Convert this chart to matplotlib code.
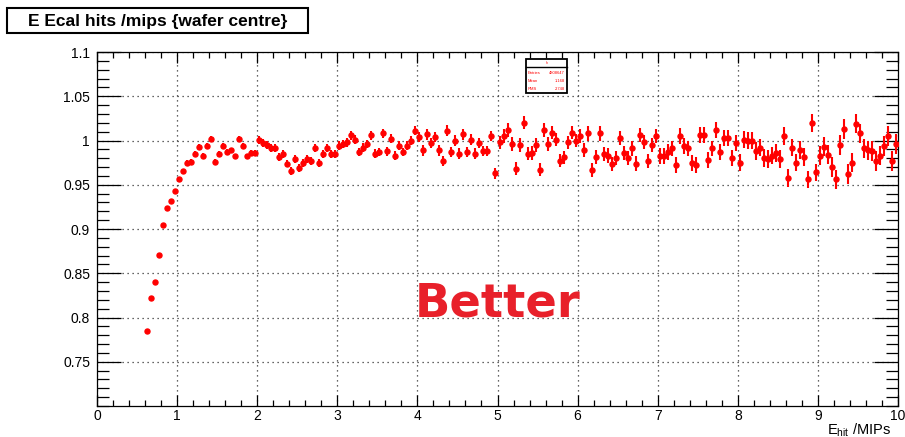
import matplotlib
matplotlib.use('Agg')
import matplotlib.pyplot as plt
import numpy as np
from matplotlib.patches import Rectangle
from matplotlib.lines import Line2D

plt.rcParams['font.family'] = ['Liberation Sans', 'DejaVu Sans']
plt.rcParams['mathtext.fontset'] = 'custom'
plt.rcParams['mathtext.rm'] = 'Liberation Sans'

# E_hit binning (MIPs)
bin_lo = 0.6
bin_width = 0.05

# mean E/mips per bin, 0.6 -> 10 MIPs
ratio_0 = [0.785, 0.822, 0.840, 0.871, 0.904, 0.924, 0.932, 0.943]
ratio_1 = [0.956, 0.965, 0.975, 0.976, 0.985, 0.993, 0.983, 0.994, 1.002, 0.976,
           0.985, 0.994, 0.987, 0.989, 0.982, 1.002, 0.994, 0.982, 0.986, 0.986]
ratio_2 = [1.001, 0.997, 0.995, 0.992, 0.991, 0.981, 0.985, 0.974, 0.966, 0.979,
           0.969, 0.975, 0.979, 0.977, 0.992, 0.975, 0.985, 0.992, 0.985, 0.985]
ratio_3 = [0.994, 0.996, 0.998, 1.006, 1.001, 0.987, 0.992, 0.996, 1.006, 0.985,
           0.987, 1.008, 0.988, 1.002, 0.983, 0.994, 0.987, 0.994, 1.000, 1.011]
ratio_4 = [1.004, 0.989, 1.007, 0.997, 1.004, 0.989, 0.977, 1.011, 0.987, 1.000,
           0.985, 1.007, 0.987, 1.001, 0.985, 0.997, 0.988, 0.988, 1.005, 0.963]
ratio_5 = [0.998, 1.005, 1.012, 0.996, 0.968, 0.995, 1.020, 0.985, 0.986, 0.995,
           0.967, 1.012, 0.996, 1.009, 1.001, 0.977, 0.981, 0.998, 1.009, 1.000]
ratio_6 = [1.005, 0.989, 1.008, 0.967, 0.981, 1.008, 0.985, 0.983, 0.973, 0.980,
           1.003, 0.986, 0.980, 0.991, 0.974, 1.006, 0.998, 0.977, 0.995, 1.005]
ratio_7 = [0.983, 0.983, 0.987, 0.991, 0.972, 1.005, 0.994, 0.991, 0.975, 0.972,
           1.006, 1.006, 0.978, 0.991, 1.012, 0.987, 1.003, 1.003, 0.980, 0.997]
ratio_8 = [0.975, 1.001, 1.000, 1.000, 0.988, 0.992, 0.980, 0.979, 0.983, 0.986,
           0.979, 1.005, 0.958, 0.992, 0.975, 0.989, 0.981, 0.956, 1.020, 0.964]
ratio_9 = [0.983, 0.993, 0.984, 0.970, 0.956, 0.995, 1.013, 0.962, 0.975, 1.019,
           1.008, 0.991, 0.989, 0.988, 0.977, 0.983, 0.994, 1.005, 0.977, 0.996]

# typical error on the mean, per MIP interval [0,1), [1,2), ...
err_per_mip = [0.0015, 0.003, 0.0045, 0.005, 0.006, 0.0075, 0.008, 0.009, 0.010, 0.011]

ratio_groups = [ratio_0, ratio_1, ratio_2, ratio_3, ratio_4,
                ratio_5, ratio_6, ratio_7, ratio_8, ratio_9]
ratio = np.concatenate(ratio_groups)
yerr = np.concatenate([[e] * len(g) for e, g in zip(err_per_mip, ratio_groups)])
x = bin_lo + bin_width * (np.arange(len(ratio)) + 0.5)

W, H = 905, 437
fig = plt.figure(figsize=(W / 100, H / 100), dpi=100)
fig.patch.set_facecolor('white')


def fx(px):
    return px / W


def fy(py):
    return 1 - py / H


ax = fig.add_axes([fx(97), fy(406), fx(898) - fx(97), fy(52) - fy(406)])
ax.set_xlim(0, 10)
ax.set_ylim(0.70, 1.10)

ax.errorbar(x, ratio, xerr=bin_width / 2, yerr=yerr, fmt='o', color='red',
            ms=3.6, elinewidth=1.5, capsize=0, zorder=3)

ax.set_xticks(np.arange(0, 11, 1))
ax.set_xticks(np.arange(0, 10.01, 0.2), minor=True)
ax.set_yticks([0.75, 0.8, 0.85, 0.9, 0.95, 1.0, 1.05, 1.1])
ax.set_yticks(np.arange(0.70, 1.1001, 0.01), minor=True)
ax.set_yticklabels(['0.75', '0.8', '0.85', '0.9', '0.95', '1', '1.05', '1.1'])
ax.set_xticklabels([str(i) for i in range(11)])

ax.tick_params(axis='x', which='major', direction='in', length=7.9, width=0.9,
               top=True, labelsize=10, pad=2)
ax.tick_params(axis='x', which='minor', direction='in', length=4, width=0.9, top=True)
ax.tick_params(axis='y', which='major', direction='in', length=17.3, width=0.9,
               right=True, labelsize=10, pad=5)
ax.tick_params(axis='y', which='minor', direction='in', length=8.6, width=0.9, right=True)
for s in ax.spines.values():
    s.set_linewidth(0.9)

ax.grid(True, which='major', color='#333333', linestyle=(0, (1, 3)), linewidth=0.9)
ax.set_axisbelow(True)

ax.text(5.0, 0.815, 'Better', color='#e8202a', fontsize=33.5, fontweight='bold',
        family='DejaVu Sans', ha='center', va='center')

# x-axis title at the right end
fig.text(fx(891), fy(434), r'E$_{\mathregular{hit}}$ /MIPs', fontsize=10.5,
         ha='right', va='baseline')

# histogram title box
title = fig.text(fx(28), fy(26), 'E Ecal hits /mips {wafer centre}', fontsize=12.5,
                 fontweight='bold', ha='left', va='baseline')
fig.canvas.draw()
bb = title.get_window_extent(renderer=fig.canvas.get_renderer())
right_px = bb.x1 + 21
fig.patches.append(Rectangle((fx(7), fy(33)), fx(right_px) - fx(7), fy(8) - fy(33),
                             transform=fig.transFigure, fill=False, ec='black', lw=1.5))

# stats box
sx0, sx1, sy0, sy1, sdiv = 526, 567, 59, 93, 66.7
fig.patches.append(Rectangle((fx(sx0), fy(sy1)), fx(sx1) - fx(sx0), fy(sy0) - fy(sy1),
                             transform=fig.transFigure, fc='white', ec='black', lw=1.3,
                             zorder=5))
fig.lines.append(Line2D([fx(sx0), fx(sx1)], [fy(sdiv), fy(sdiv)],
                        transform=fig.transFigure, color='black', lw=1.0, zorder=6))
fig.text(fx((sx0 + sx1) / 2), fy(63), 'h', color='red', fontsize=2.5,
         ha='center', va='center', zorder=7)
for row_y, name, val in [(72.7, 'Entries', '4808647'), (80.7, 'Mean', '1.168'),
                         (88.7, 'RMS', '2.748')]:
    fig.text(fx(sx0 + 2), fy(row_y), name, color='red', fontsize=3,
             ha='left', va='center', zorder=7)
    fig.text(fx(sx1 - 2), fy(row_y), val, color='red', fontsize=3,
             ha='right', va='center', zorder=7)

fig.savefig('out.png', dpi=100)
